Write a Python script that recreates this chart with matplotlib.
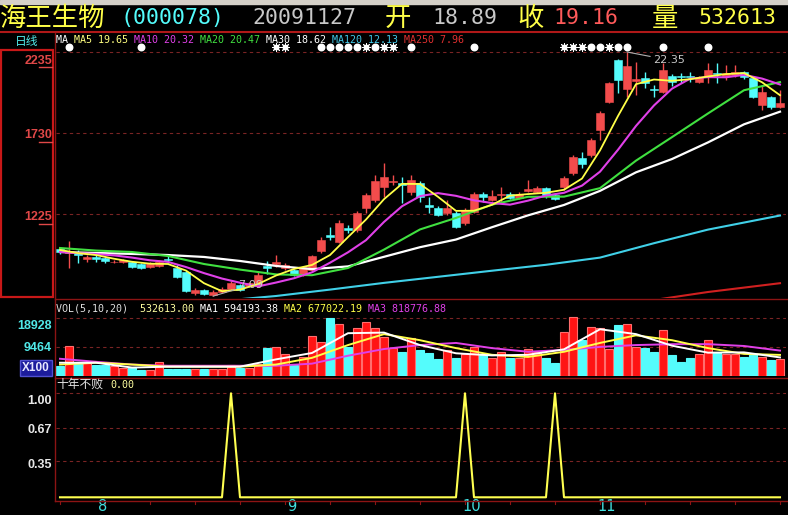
import matplotlib
matplotlib.use("Agg")
import matplotlib.pyplot as plt
from matplotlib.lines import Line2D
from matplotlib.patches import Rectangle
import numpy as np

W, H = 788, 515
CJK = ["Noto Sans CJK SC", "DejaVu Sans"]
MONO = "DejaVu Sans Mono"

RED = "#f24c4c"
CYAN = "#54fcfc"
YEL = "#ffff48"
MAG = "#e040e8"
GRN = "#40e040"
WHT = "#ffffff"
BLU = "#40d0e8"
DRED = "#d02020"
GRID = "#7a2424"
FRAME = "#8c1414"

# ---- daily bars (last bar = 2009-11-27) ----
opens = [10.04, 9.79, 9.85, 9.41, 9.54, 9.48, 9.20, 9.23, 9.23, 9.10,
         8.91, 8.98, 9.41, 8.85, 8.60, 7.29, 7.48, 7.16, 7.35, 7.54,
         7.79, 7.73, 7.79, 8.98, 9.10, 8.85, 8.73, 8.41, 8.73, 9.91,
         10.91, 10.48, 11.35, 11.23, 12.60, 13.10, 13.91, 14.23, 14.16, 13.60,
         14.16, 12.79, 12.60, 12.29, 12.29, 11.66, 12.35, 13.48, 13.10, 13.41,
         13.48, 13.23, 13.66, 13.60, 13.85, 13.41, 13.91, 14.79, 15.73, 15.91,
         17.48, 19.23, 21.85, 20.04, 20.54, 20.73, 20.04, 19.85, 20.85, 20.85,
         20.85, 20.48, 20.85, 21.04, 20.85, 20.91, 21.10, 20.73, 19.04, 19.54,
         18.89]
closes = [9.85, 9.94, 9.66, 9.54, 9.41, 9.29, 9.25, 9.35, 8.91, 8.85,
          9.16, 9.23, 9.35, 8.29, 7.41, 7.48, 7.23, 7.35, 7.54, 7.91,
          7.48, 7.91, 8.41, 8.85, 9.23, 9.04, 8.41, 8.91, 9.60, 10.60,
          10.79, 11.66, 11.23, 12.29, 13.41, 14.29, 14.54, 14.29, 14.04, 14.35,
          13.29, 12.66, 12.16, 12.60, 11.41, 12.48, 13.48, 13.29, 13.35, 13.48,
          13.23, 13.48, 13.79, 13.85, 13.41, 13.16, 14.48, 15.79, 15.35, 16.85,
          18.54, 20.41, 20.60, 21.48, 20.66, 20.41, 19.98, 21.23, 20.48, 20.79,
          20.79, 20.79, 21.23, 20.98, 21.04, 21.10, 20.79, 19.54, 19.85, 18.91,
          19.16]
highs = [10.16, 10.54, 9.98, 9.66, 9.66, 9.54, 9.32, 9.41, 9.29, 9.16,
         9.23, 9.35, 9.66, 9.04, 8.66, 7.60, 7.54, 7.48, 7.66, 8.04,
         7.85, 7.98, 8.60, 9.29, 9.66, 9.16, 8.79, 8.98, 9.66, 10.79,
         11.41, 11.85, 11.54, 12.41, 13.54, 14.66, 15.41, 14.66, 14.54, 14.66,
         14.29, 13.29, 12.73, 13.10, 12.41, 12.60, 13.60, 13.60, 13.73, 13.91,
         13.60, 13.60, 14.35, 13.98, 13.91, 13.54, 14.60, 15.91, 16.10, 16.98,
         18.66, 20.48, 21.91, 22.35, 21.73, 21.10, 20.29, 21.66, 20.98, 21.04,
         21.10, 20.85, 21.66, 21.66, 21.54, 21.54, 21.16, 20.85, 20.29, 19.60,
         19.98]
lows = [9.73, 8.85, 9.16, 9.23, 9.23, 9.16, 9.16, 9.16, 8.85, 8.79,
        8.85, 8.91, 9.16, 8.23, 7.35, 7.16, 7.16, 7.09, 7.29, 7.48,
        7.41, 7.66, 7.66, 8.48, 8.91, 8.73, 8.35, 8.35, 8.66, 9.79,
        10.60, 10.41, 11.04, 11.10, 12.29, 12.98, 13.29, 14.04, 12.91, 13.41,
        12.98, 12.29, 12.10, 12.16, 11.35, 11.54, 12.29, 12.98, 13.04, 12.91,
        13.16, 13.16, 13.60, 13.54, 13.23, 13.10, 13.73, 14.66, 15.10, 15.79,
        16.85, 19.16, 19.79, 19.54, 19.66, 20.10, 19.54, 19.79, 20.23, 20.41,
        20.48, 20.41, 20.41, 20.41, 20.60, 20.79, 20.66, 19.48, 18.73, 18.79,
        18.85]
# volume in units of 100 shares
volume = [3000, 9700, 4200, 4200, 3300, 3300, 3100, 2600, 2700, 1900,
          1800, 4500, 2300, 2300, 2300, 2300, 2300, 2300, 2300, 3600,
          2500, 2500, 3900, 9000, 9400, 7100, 3300, 6200, 13000, 11000,
          18800, 16800, 9400, 15500, 17500, 15500, 12700, 9000, 7800, 12300,
          8400, 7400, 5500, 8400, 5900, 7100, 9400, 6900, 5800, 7700,
          5900, 5800, 8700, 7600, 5800, 4200, 14200, 19100, 11600, 15900,
          15600, 8700, 16500, 17000, 9400, 9000, 7800, 14900, 6700, 4600,
          5800, 7100, 11600, 7600, 7100, 7100, 6200, 7100, 6200, 5200,
          5326]

# moving average lines, read at sampled days
ma_fast_idx = list(range(0, 81, 2))
ma5 = [9.98, 9.78, 9.66, 9.43, 9.24, 9.12, 9.10, 8.69, 7.90, 7.40,
       7.50, 7.85, 8.38, 8.79, 9.04, 9.66, 10.78, 11.88, 13.15, 14.11,
       14.10, 13.30, 12.42, 12.43, 12.80, 13.37, 13.47, 13.55, 13.74, 14.44,
       16.20, 18.35, 20.34, 20.63, 20.55, 20.65, 20.82, 20.97, 21.03, 20.46,
       19.65]
ma10 = [9.85, 9.78, 9.72, 9.64, 9.50, 9.33, 9.23, 8.91, 8.53, 8.19,
        7.93, 7.70, 7.94, 8.21, 8.58, 9.18, 9.83, 10.59, 11.73, 12.71,
        13.34, 13.53, 13.36, 13.08, 12.91, 12.81, 13.06, 13.38, 13.55, 14.00,
        14.87, 16.24, 17.73, 19.01, 20.06, 20.68, 20.78, 20.77, 20.92, 20.69,
        20.32]
ma_slow_idx = list(range(0, 81, 4))
ma20 = [10.10, 9.94, 9.85, 9.60, 9.10, 8.75, 8.45, 8.40, 8.85, 10.00, 11.26,
        11.98, 12.81, 13.30, 13.31, 13.84, 15.56, 17.03, 18.51, 19.96, 20.47]
ma30 = [9.85, 9.79, 9.73, 9.66, 9.54, 9.29, 8.98, 8.78, 8.95, 9.55, 10.15,
        10.63, 11.40, 12.14, 12.79, 13.67, 14.83, 15.66, 16.70, 17.83, 18.62]
ma120_idx = [18, 24, 30, 36, 42, 48, 54, 60, 66, 72, 80]
ma120 = [6.80, 7.10, 7.50, 7.92, 8.30, 8.68, 9.05, 9.50, 10.40, 11.25, 12.13]
ma250_idx = [66, 72, 80]
ma250 = [6.85, 7.35, 7.90]
ma_last = [19.65, 20.32, 20.47, 18.62, 12.13, 7.96]

vol_ma1 = [4200, 4200, 2600, 2900, 2900, 2900, 5300, 7400, 13900, 14100, 10000,
           7300, 6600, 6800, 8600, 15200, 13600, 9800, 7500, 7600, 5942]
vol_ma2 = [3600, 4200, 3600, 2900, 2900, 2900, 3600, 5800, 10000, 13600, 11600,
           9000, 6800, 6100, 7800, 10700, 13200, 11600, 9000, 7100, 6770]
vol_ma3 = [5500, 4500, 3600, 3200, 3200, 3200, 3200, 3900, 6500, 8700, 10000,
           10700, 9000, 7800, 8400, 9400, 10000, 10300, 10300, 9700, 8188]
vol_last = [532613.00, 594193.38, 677022.19, 818776.88]

signal_days = [19, 45, 55]          # "十年不败" fires on these bars
dot_days = [1, 9, 29, 30, 31, 32, 33, 35, 39, 46, 59, 60, 62, 63, 67, 72]
star_days = [24, 25, 34, 36, 37, 56, 57, 58, 61]

price_ticks = [22.35, 17.30, 12.25]
price_tick_labels = ["2235", "1730", "1225"]
vol_ticks = [9464, 18928]
ind_ticks = [1.00, 0.67, 0.35]
month_idx = [5, 26, 46, 61]
month_labels = ["8", "9", "10", "11"]

# ---------------------------------------------------------------
o, c = np.array(opens), np.array(closes)
hi, lo = np.array(highs), np.array(lows)
x = np.arange(len(c))
up = c >= o
cols = np.where(up, RED, CYAN)

fig = plt.figure(figsize=(W / 100, H / 100), dpi=100, facecolor="black")


def box(x0, y0, x1, y1):
    return [x0 / W, 1 - y1 / H, (x1 - x0) / W, (y1 - y0) / H]


def ftext(px, py, s, **kw):
    fig.text(px / W, 1 - py / H, s, **kw)


def fline(x0, y0, x1, y1, **kw):
    fig.add_artist(Line2D([x0 / W, x1 / W], [1 - y0 / H, 1 - y1 / H], **kw))


def seq_text(x0, py, parts, size=7.2):
    px = x0
    for s, col in parts:
        ftext(px, py, s, color=col, fontsize=size, family=MONO, va="center", ha="left")
        px += 6 * len(s)


XL = (-0.444, 80.667)
ax_p = fig.add_axes(box(56, 33, 786, 298))
ax_v = fig.add_axes(box(56, 300, 786, 376))
ax_i = fig.add_axes(box(56, 380, 786, 500))
for ax in (ax_p, ax_v, ax_i):
    ax.set_facecolor("black")
    ax.set_xlim(*XL)
    for s in ax.spines.values():
        s.set_visible(False)
    ax.set_xticks([])
    ax.set_yticks([])

# ---- price panel ----
ax_p.set_ylim(6.975, 23.5375)
for t in price_ticks:
    ax_p.axhline(t, color=GRID, lw=0.8, ls=(0, (3, 3)), zorder=1)
ax_p.vlines(x, lo, hi, colors=cols, lw=1, zorder=2)
body = np.maximum(np.abs(c - o), 0.04)
ax_p.bar(x, body, bottom=np.minimum(o, c), width=0.78, color=cols,
         edgecolor=cols, lw=0.4, zorder=2)

ax_p.plot(ma250_idx, ma250, color=DRED, lw=1.5, zorder=3)
ax_p.plot(ma120_idx, ma120, color=BLU, lw=1.5, zorder=3)
ax_p.plot(ma_slow_idx, ma30, color=WHT, lw=1.6, zorder=3)
ax_p.plot(ma_slow_idx, ma20, color=GRN, lw=1.5, zorder=3)
ax_p.plot(ma_fast_idx, ma10, color=MAG, lw=1.5, zorder=3)
ax_p.plot(ma_fast_idx, ma5, color=YEL, lw=1.3, zorder=4)

tr = ax_p.get_xaxis_transform()
ax_p.scatter(dot_days, [0.947] * len(dot_days), s=22, marker="o", color=WHT,
             transform=tr, zorder=5, clip_on=False)
ax_p.scatter(star_days, [0.947] * len(star_days), s=10, marker="o", color=WHT,
             transform=tr, zorder=5, clip_on=False)
ax_p.scatter(star_days, [0.947] * len(star_days), s=34, marker=(8, 2, 0), color=WHT,
             lw=0.7, transform=tr, zorder=5, clip_on=False)

i_hi = int(np.argmax(hi))
i_lo = int(np.argmin(lo))
ax_p.annotate(f"{hi[i_hi]:.2f}", xy=(i_hi, hi[i_hi]), xytext=(26, -8),
              textcoords="offset pixels", color="#c8c8c8", fontsize=8,
              va="center", ha="left",
              arrowprops=dict(arrowstyle="-", color="#b0b0b0", lw=0.8,
                              shrinkA=0, shrinkB=0), zorder=6)
ax_p.annotate(f"{lo[i_lo]:.2f}", xy=(i_lo, lo[i_lo]), xytext=(25, 11),
              textcoords="offset pixels", color="#c8c8c8", fontsize=8,
              va="center", ha="left",
              arrowprops=dict(arrowstyle="-", color="#b0b0b0", lw=0.8,
                              shrinkA=0, shrinkB=0), zorder=6)

# ---- volume panel ----
ax_v.set_ylim(-164, 24810)
for t in vol_ticks:
    ax_v.axhline(t, color=GRID, lw=0.8, ls=(0, (3, 3)), zorder=1)
vface = np.where(up, "#ff1414", CYAN)
vedge = np.where(up, "#ff6e6e", CYAN)
ax_v.bar(x, volume, width=0.82, color=vface, edgecolor=vedge, lw=0.8, zorder=2)
ax_v.plot(ma_slow_idx, vol_ma3, color=MAG, lw=1.4, zorder=3)
ax_v.plot(ma_slow_idx, vol_ma2, color=YEL, lw=1.4, zorder=3)
ax_v.plot(ma_slow_idx, vol_ma1, color=WHT, lw=1.4, zorder=3)

# ---- indicator panel ----
ax_i.set_ylim(-0.026, 1.128)
for t in ind_ticks:
    ax_i.axhline(t, color=GRID, lw=0.8, ls=(0, (3, 3)), zorder=1)
sig = np.zeros(len(c))
sig[signal_days] = 1
ax_i.plot(x, sig, color="#ffff50", lw=1.5, zorder=3)

xt = ax_i.get_xaxis_transform()
for t in range(0, len(c), 5):
    ax_i.plot([t, t], [-0.008, -0.03], color=FRAME, lw=0.8, transform=xt, clip_on=False)
for t, lab in zip(month_idx, month_labels):
    ax_i.text(t - 0.3, -0.095, lab, transform=xt, color="#40e0e0", fontsize=10.5,
              ha="center", va="baseline", clip_on=False)

# ---- frame lines ----
fig.add_artist(Rectangle((0, 1 - 4 / H), 1, 4 / H, transform=fig.transFigure,
                         color="#d4d0c8", zorder=0))
fline(0, 32, W, 32, color="#b01818", lw=1.5)
fline(55, 33, 55, 501, color=FRAME, lw=1)
fline(55, 298.5, W, 298.5, color=FRAME, lw=1)
fline(55, 378, W, 378, color=FRAME, lw=1)
fline(55, 501, W, 501, color=FRAME, lw=1)
fig.add_artist(Rectangle((1 / W, 1 - 297 / H), 52 / W, 247 / H, transform=fig.transFigure,
                         fill=False, edgecolor="#c81818", lw=1.6))

# ---- header ----
big = [("海王生物", 0, YEL, True), ("(000078)", 120, CYAN, False),
       ("20091127", 252, "#c8c8c8", False), ("开", 385, YEL, True),
       (f"{opens[-1]:.2f}", 432, "#c8c8c8", False), ("收", 517, YEL, True),
       (f"{closes[-1]:.2f}", 553, "#ff5a5a", False), ("量", 652, YEL, True),
       (f"{int(vol_last[0])}", 698, YEL, False)]
for s, px, col, is_cjk in big:
    if is_cjk:
        ftext(px, 18, s, color=col, fontsize=19, family=CJK, va="center", ha="left")
    else:
        ftext(px, 18, s, color=col, fontsize=15.5, family=MONO, va="center", ha="left")

ftext(27, 41, "日线", color="#50e8e8", fontsize=8.5, family=CJK, va="center", ha="center")
seq_text(56, 40, [("MA ", WHT), (f"MA5 {ma_last[0]:.2f} ", "#ffff80"),
                  (f"MA10 {ma_last[1]:.2f} ", MAG), (f"MA20 {ma_last[2]:.2f} ", GRN),
                  (f"MA30 {ma_last[3]:.2f} ", WHT), (f"MA120 {ma_last[4]:.2f} ", "#40c8e8"),
                  (f"MA250 {ma_last[5]:.2f}", "#e03030")])
seq_text(56, 308.5, [("VOL(5,10,20)  ", "#e0e0e0"), (f"{vol_last[0]:.2f} ", "#ffffa0"),
                     (f"MA1 {vol_last[1]:.2f} ", WHT), (f"MA2 {vol_last[2]:.2f} ", YEL),
                     (f"MA3 {vol_last[3]:.2f}", MAG)])
ftext(56, 384.5, "十年不败", color="#e8e8e8", fontsize=8.5, family=CJK, va="center", ha="left")
ftext(110, 384.5, "0.00", color="#ffffa0", fontsize=7.2, family=MONO, va="center", ha="left")

# ---- left axis labels ----
for lab, py in zip(price_tick_labels, [60.5, 135, 217.5]):
    ftext(52, py, lab, color="#e04848", fontsize=9, family="Liberation Sans",
          weight="bold", va="center", ha="right")
    fline(39, py + 6.5, 52, py + 6.5, color="#e04848", lw=1)
for lab, py in zip([f"{vol_ticks[1]}", f"{vol_ticks[0]}"], [326, 348]):
    ftext(52, py, lab, color="#50e8e8", fontsize=9, family="Liberation Sans",
          weight="bold", va="center", ha="right")
ftext(36, 368, "X100", color="#e8e8ff", fontsize=8.5, family="Liberation Sans",
      weight="bold", va="center", ha="center",
      bbox=dict(boxstyle="square,pad=0.15", facecolor="#1c1c9c", edgecolor="#5050d0", lw=1))
for t, py in zip(ind_ticks, [401, 430, 465]):
    ftext(52, py, f"{t:.2f}", color="#e8e8e8", fontsize=9, family="Liberation Sans",
          weight="bold", va="center", ha="right")

fig.savefig("out.png", dpi=100, facecolor="black")
